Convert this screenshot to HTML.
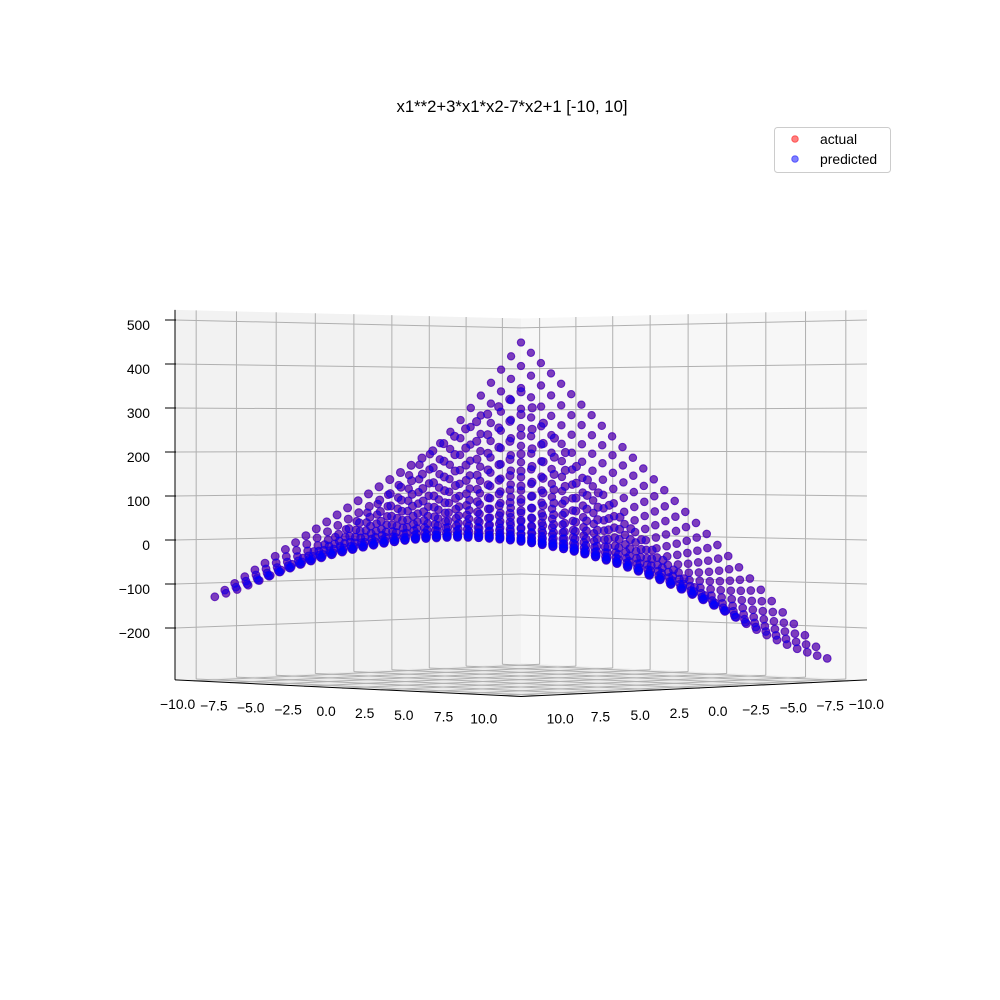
<!DOCTYPE html>
<html><head><meta charset="utf-8"><style>
html,body{margin:0;padding:0;background:#fff;}
svg{display:block;font-family:"Liberation Sans",sans-serif;}
</style></head><body>
<svg id="chart" width="1000" height="1000" viewBox="0 0 1000 1000" xmlns="http://www.w3.org/2000/svg">
<rect width="1000" height="1000" fill="#fff"/>
<text x="512" y="112" text-anchor="middle" font-size="16.7">x1**2+3*x1*x2-7*x2+1 [-10, 10]</text>
<g id="panes"></g><g id="grid"></g><g id="pts"></g><g id="axes"></g>
<g>
<rect x="774.5" y="127.5" width="116" height="45" rx="3" fill="#fff" fill-opacity="0.8" stroke="#ccc"/>
<circle cx="795" cy="139" r="3.3" fill="#f00" fill-opacity="0.5" stroke="#f00" stroke-opacity="0.5"/>
<text x="820" y="144" font-size="13.9">actual</text>
<circle cx="795" cy="159" r="3.3" fill="#00f" fill-opacity="0.5" stroke="#00f" stroke-opacity="0.5"/>
<text x="820" y="164" font-size="13.9">predicted</text>
</g>
</svg>
<script>
const gridX1 = [-10.00,-9.31,-8.62,-7.93,-7.24,-6.55,-5.86,-5.17,-4.48,-3.79,-3.10,-2.41,-1.72,-1.03,-0.34,0.34,1.03,1.72,2.41,3.10,3.79,4.48,5.17,5.86,6.55,7.24,7.93,8.62,9.31,10.00];
const gridX2 = [-10.00,-9.31,-8.62,-7.93,-7.24,-6.55,-5.86,-5.17,-4.48,-3.79,-3.10,-2.41,-1.72,-1.03,-0.34,0.34,1.03,1.72,2.41,3.10,3.79,4.48,5.17,5.86,6.55,7.24,7.93,8.62,9.31,10.00];
const xyTicks = [-10,-7.5,-5,-2.5,0,2.5,5,7.5,10];
const xyTickLabels = ["−10.0","−7.5","−5.0","−2.5","0.0","2.5","5.0","7.5","10.0"];
const zTicks = [-200,-100,0,100,200,300,400,500];
const zTickLabels = ["−200","−100","0","100","200","300","400","500"];
// target function from title
const actual = [], predicted = [];
for (const a of gridX1) for (const b of gridX2) {
  const v = a*a + 3*a*b - 7*b + 1;
  actual.push([a,b,v]); predicted.push([a,b,v]);
}
const L = 11.3, ZMIN = -318, ZMAX = 523;
const NS = "http://www.w3.org/2000/svg";
function proj(x1,x2,z){
  const d = (x1+x2)/(2*L);
  const s = 1 + 0.068*d;
  return [521 - s*173*(x1-x2)/L, 495 + s*(45 - 0.44*z) + 4*d, s, d];
}
function mk(parent, tag, attrs){
  const e = document.createElementNS(NS, tag);
  for (const k in attrs) e.setAttribute(k, attrs[k]);
  document.getElementById(parent).appendChild(e);
  return e;
}
function poly(pts){ return pts.map(p=>{const q=proj(p[0],p[1],p[2]);return q[0].toFixed(1)+","+q[1].toFixed(1);}).join(" "); }
let e;
e = mk("panes","polygon",{points:poly([[L,-L,ZMIN],[L,L,ZMIN],[-L,L,ZMIN],[-L,-L,ZMIN]]),fill:"#ebebeb"});


e = mk("panes","polygon",{points:poly([[L,-L,ZMIN],[L,-L,ZMAX],[-L,-L,ZMAX],[-L,-L,ZMIN]]),fill:"#f2f2f2"});


e = mk("panes","polygon",{points:poly([[-L,-L,ZMIN],[-L,-L,ZMAX],[-L,L,ZMAX],[-L,L,ZMIN]]),fill:"#f7f7f7"});


function line(parent,a,b,attrs){
  const p=proj(...a), q=proj(...b);
  return mk(parent,"line",Object.assign({x1:p[0],y1:p[1],x2:q[0],y2:q[1]},attrs));
}
const gs = {stroke:"#b0b0b0","stroke-width":1};
for (const t of xyTicks){
  e = line("grid",[t,-L,ZMIN],[t,-L,ZMAX],gs);
  
  
  e = line("grid",[-L,t,ZMIN],[-L,t,ZMAX],gs);
  
  
  e = line("grid",[t,-L,ZMIN],[t,L,ZMIN],gs);
  
  
  e = line("grid",[-L,t,ZMIN],[L,t,ZMIN],gs);
  
  
}
for (const z of zTicks){
  e = line("grid",[L,-L,z],[-L,-L,z],gs);
  
  
  e = line("grid",[-L,-L,z],[-L,L,z],gs);
  
  
}
const as = {stroke:"#000","stroke-width":1};
e = line("axes",[L,-L,ZMIN],[L,L,ZMIN],as);


e = line("axes",[L,L,ZMIN],[-L,L,ZMIN],as);


e = line("axes",[L,-L,ZMIN],[L,-L,ZMAX],as);


xyTicks.forEach((t,i)=>{
  const p = proj(L,t,ZMIN);
  e = mk("axes","text",{x:p[0]-16,y:p[1]+28,"text-anchor":"middle","font-size":"13.9"});
  e.textContent = xyTickLabels[i];
  
  
  const q = proj(t,L,ZMIN);
  e = mk("axes","text",{x:q[0]+18,y:q[1]+28,"text-anchor":"middle","font-size":"13.9"});
  e.textContent = xyTickLabels[i];
  
  
});
zTicks.forEach((z,i)=>{
  const p = proj(L,-L,z);
  e = mk("axes","line",{x1:p[0]-10,y1:p[1],x2:p[0]+1,y2:p[1],stroke:"#000","stroke-width":1});
  
  
  e = mk("axes","text",{x:p[0]-25,y:p[1]+10,"text-anchor":"end","font-size":"13.9"});
  e.textContent = zTickLabels[i];
  
  
});
function drawSeries(data, color, name){
  const pts = data.map(v=>{const p=proj(v[0],v[1],v[2]); if(p[3]<0) p[1]+= -p[3]*4; return p;}).sort((a,b)=>a[3]-b[3]);
  for (const p of pts){
    e = mk("pts","circle",{cx:p[0].toFixed(1),cy:p[1].toFixed(1),r:(3.9*p[2]).toFixed(2),fill:color,"fill-opacity":0.5,stroke:color,"stroke-opacity":0.5,"stroke-width":1});
    
    
  }
}
drawSeries(actual,"#ff0000","actual-point");
drawSeries(predicted,"#0000ff","predicted-point");
</script>
</body></html>
